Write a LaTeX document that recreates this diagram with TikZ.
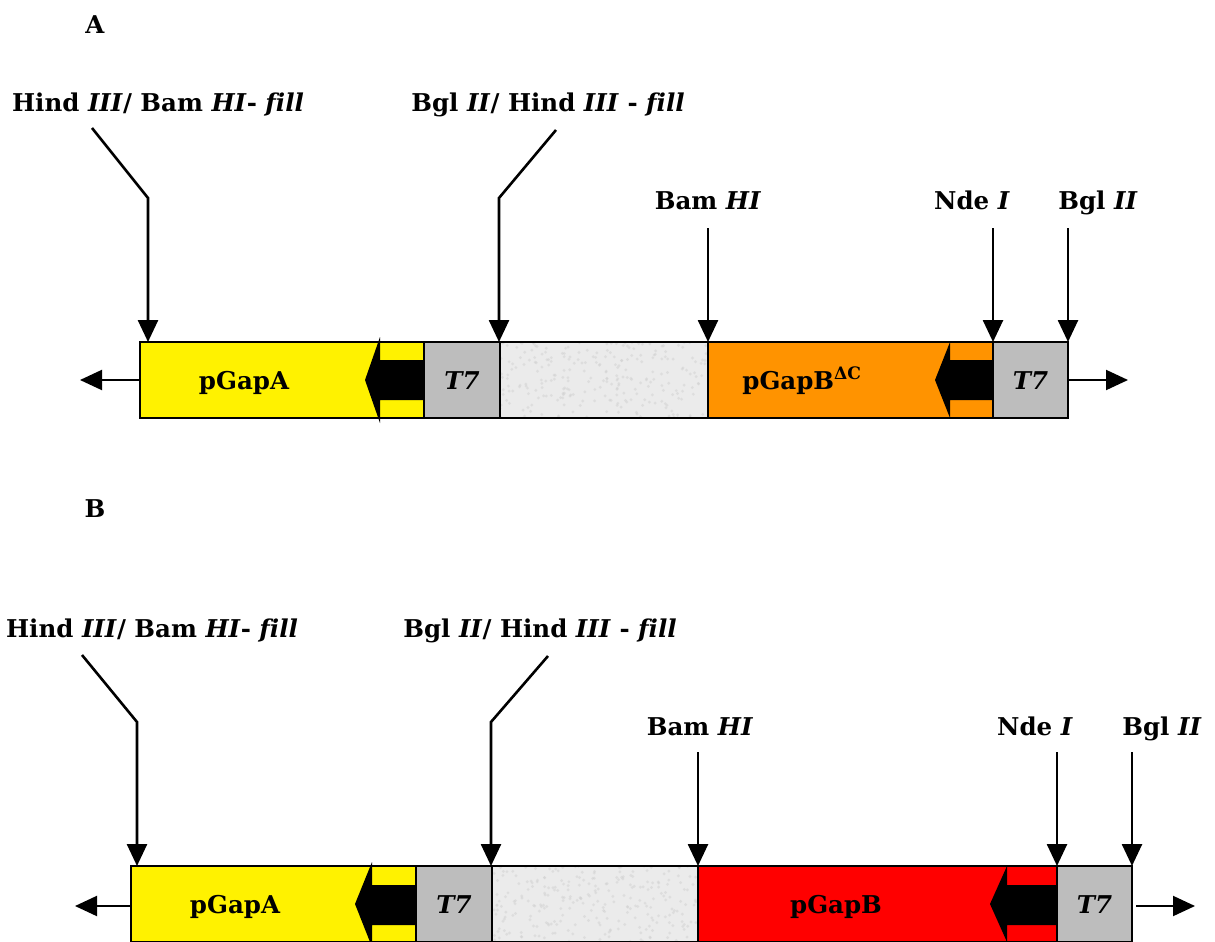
\documentclass[tikz,border=0pt]{standalone}
\usepackage{fontspec}
\setmainfont[Ligatures=NoCommon]{DejaVu Serif}
\usetikzlibrary{arrows.meta}

\tikzset{
  seg/.style={rectangle, draw, line width=2pt, anchor=north west, minimum height=76pt, inner sep=0pt, outer sep=0pt},
  cut/.style={line width=2.6pt, -{Triangle[length=22pt,width=20pt]}},
  lbl/.style={font=\fontsize{24.5}{29}\selectfont\bfseries, inner sep=0pt, anchor=base},
  prom/.style={fill=black, draw=none},
}

\begin{document}
\begin{tikzpicture}[x=1pt,y=-1pt]
\useasboundingbox (0,0) rectangle (1215,942);

%%% construct A
\draw (95,34) node (tagA) [lbl] {A};

\draw (140,342) node (gapA)  [seg, fill=yellow, minimum width=284pt] {};
\draw (gapA.north east) node (t7aA) [seg, fill=black!26, minimum width=76pt] {};
\draw (t7aA.north east) node (fillA) [seg, fill=black!8, minimum width=208pt] {};
\draw (fillA.north east) node (gbA) [seg, fill=orange!85!yellow, minimum width=285pt] {};
\draw (gbA.north east) node (t7bA) [seg, fill=black!26, minimum width=75pt] {};

% speckles on the stuffer
\pgfmathsetseed{11}
\begin{scope}
\clip (fillA.north west) rectangle (fillA.south east);
\foreach \i in {1,...,260}{
  \pgfmathsetmacro\px{500+208*rnd}
  \pgfmathsetmacro\py{342+76*rnd}
  \fill[black!18, opacity=0.5] (\px,\py) circle (1.6pt);
}
\end{scope}
\draw[line width=2pt] (fillA.north west) rectangle (fillA.south east);

% promoter arrows
\fill[prom] (365,380) -- (380,337) -- (380,360) -- (gapA.east |- 0,360) -- (gapA.east |- 0,400) -- (380,400) -- (380,423) -- cycle;
\fill[prom] (935,380) -- (950,342) -- (950,360) -- (gbA.east |- 0,360) -- (gbA.east |- 0,400) -- (950,400) -- (950,418) -- cycle;

\draw (244,389) node (gapAtxt) [lbl] {pGapA};
\draw (t7aA.center |- 0,389) node (t7aAtxt) [lbl] {\itshape T7};
\draw (802,389) node (gbAtxt) [lbl] {pGapB\textsuperscript{ΔC}};
\draw (t7bA.center |- 0,389) node (t7bAtxt) [lbl] {\itshape T7};

% sites
\draw (158,111) node (hindA) [lbl] {Hind \textit{III}/ Bam \textit{HI}- \textit{fill}};
\coordinate (hindAs) at (92,128);
\coordinate (hindAk) at (148,198);
\draw[cut] (hindAs) -- (hindAk) -- (hindAk |- gapA.north);

\draw (548,111) node (bglA) [lbl] {Bgl \textit{II}/ Hind \textit{III} - \textit{fill}};
\coordinate (bglAs) at (556,130);
\coordinate (bglAk) at (499,198);
\draw[cut] (bglAs) -- (bglAk) -- (bglAk |- gapA.north);

\draw (708,209) node (bamA) [lbl] {Bam \textit{HI}};
\draw[cut] (gbA.north west |- 0,228) -- (gbA.north west);
\draw (972,209) node (ndeA) [lbl] {Nde \textit{I}};
\draw[cut] (t7bA.north west |- 0,228) -- (t7bA.north west);
\draw (1098,209) node (bgl2A) [lbl] {Bgl \textit{II}};
\draw[cut] (t7bA.north east |- 0,228) -- (t7bA.north east);

% direction of the ends
\coordinate (leftA) at (80,380);
\coordinate (rightA) at (1128,380);
\draw[cut, line width=2pt] (gapA.west) -- (leftA);
\draw[cut, line width=2pt] (t7bA.east) -- (rightA);

%%% construct B
\draw (95,517) node (tagB) [lbl] {B};

\draw (131,866) node (gapB)  [seg, fill=yellow, minimum width=285pt] {};
\draw (gapB.north east) node (t7aB) [seg, fill=black!26, minimum width=76pt] {};
\draw (t7aB.north east) node (fillB) [seg, fill=black!8, minimum width=206pt] {};
\draw (fillB.north east) node (gbB) [seg, fill=red, minimum width=359pt] {};
\draw (gbB.north east) node (t7bB) [seg, fill=black!26, minimum width=75pt] {};

\begin{scope}
\clip (fillB.north west) rectangle (fillB.south east);
\foreach \i in {1,...,260}{
  \pgfmathsetmacro\px{492+206*rnd}
  \pgfmathsetmacro\py{866+76*rnd}
  \fill[black!18, opacity=0.5] (\px,\py) circle (1.6pt);
}
\end{scope}
\draw[line width=2pt] (fillB.north west) rectangle (fillB.south east);

\fill[prom] (355,904) -- (372,862) -- (372,885) -- (gapB.east |- 0,885) -- (gapB.east |- 0,925) -- (372,925) -- (372,947) -- cycle;
\fill[prom] (990,904) -- (1007,866) -- (1007,885) -- (gbB.east |- 0,885) -- (gbB.east |- 0,925) -- (1007,925) -- (1007,942) -- cycle;

\draw (235,913) node (gapBtxt) [lbl] {pGapA};
\draw (t7aB.center |- 0,913) node (t7aBtxt) [lbl] {\itshape T7};
\draw (836,913) node (gbBtxt) [lbl] {pGapB};
\draw (t7bB.center |- 0,913) node (t7bBtxt) [lbl] {\itshape T7};

\draw (152,637) node (hindB) [lbl] {Hind \textit{III}/ Bam \textit{HI}- \textit{fill}};
\coordinate (hindBs) at (82,655);
\coordinate (hindBk) at (137,722);
\draw[cut] (hindBs) -- (hindBk) -- (hindBk |- gapB.north);

\draw (540,637) node (bglB) [lbl] {Bgl \textit{II}/ Hind \textit{III} - \textit{fill}};
\coordinate (bglBs) at (548,656);
\coordinate (bglBk) at (491,722);
\draw[cut] (bglBs) -- (bglBk) -- (bglBk |- gapB.north);

\draw (700,735) node (bamB) [lbl] {Bam \textit{HI}};
\draw[cut] (gbB.north west |- 0,752) -- (gbB.north west);
\draw (1035,735) node (ndeB) [lbl] {Nde \textit{I}};
\draw[cut] (t7bB.north west |- 0,752) -- (t7bB.north west);
\draw (1162,735) node (bgl2B) [lbl] {Bgl \textit{II}};
\draw[cut] (t7bB.north east |- 0,752) -- (t7bB.north east);

\coordinate (leftB) at (75,906);
\coordinate (rightB) at (1195,906);
\draw[cut, line width=2pt] (gapB.west |- leftB) -- (leftB);
\draw[cut, line width=2pt] (t7bB.east |- rightB) ++(4,0) -- (rightB);

\end{tikzpicture}
\end{document}
